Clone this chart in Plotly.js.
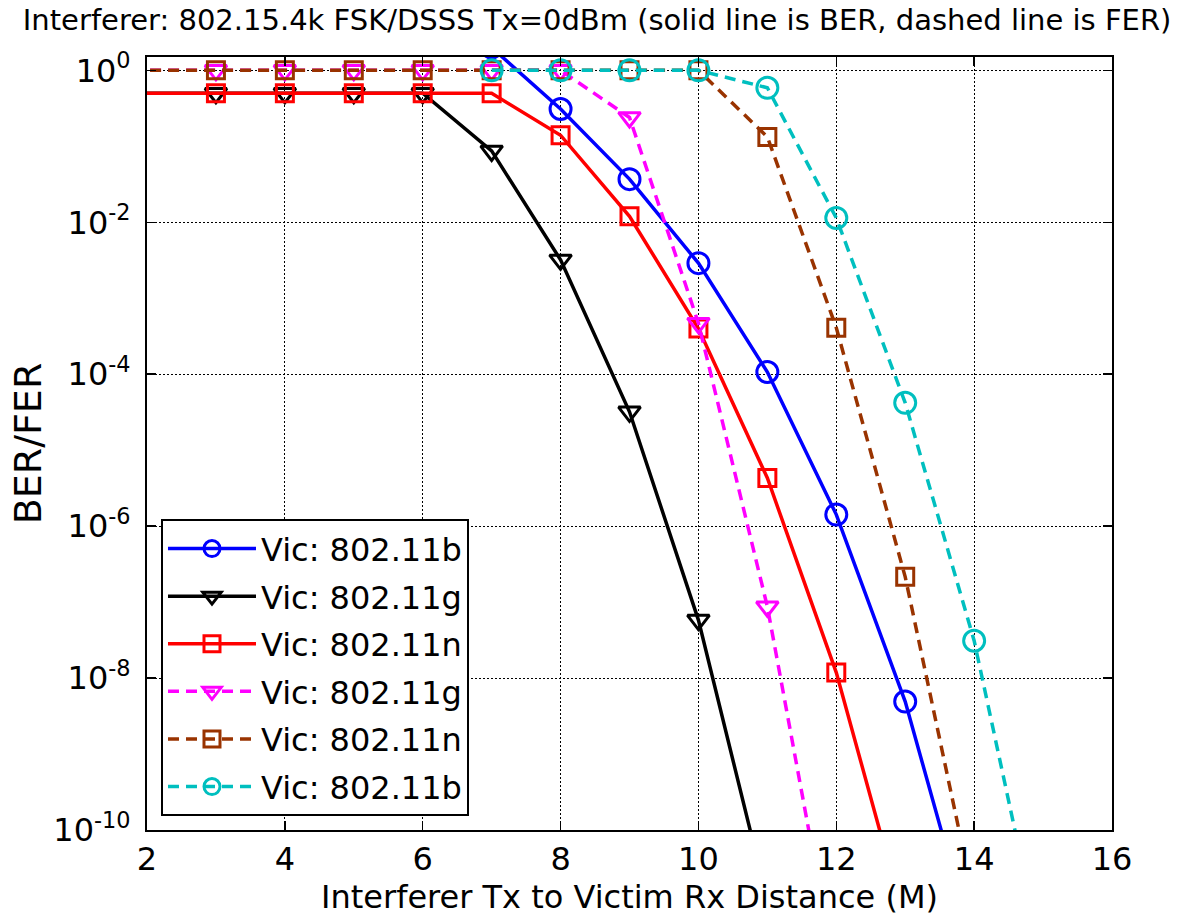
<!DOCTYPE html>
<html>
<head>
<meta charset="utf-8">
<script src="https://cdn.plot.ly/plotly-3.0.1.min.js"></script>
<style>html,body{margin:0;padding:0;background:#fff;}#chart{width:1180px;height:923px;}</style>
</head>
<body>
<div id="chart"></div>
<script>
// Series data (distance in M, BER/FER values)
const names = ["Vic: 802.11b", "Vic: 802.11g", "Vic: 802.11n", "Vic: 802.11g", "Vic: 802.11n", "Vic: 802.11b"];

const berBx = [7, 8, 9, 10, 11, 12, 13, 14];
const berBy = [2.0, 0.31, 0.037, 0.0029, 1.07e-4, 1.42e-6, 4.9e-9, 2.8e-12];

const berGx = [1, 3, 4, 5, 6, 7, 8, 9, 10, 11];
const berGy = [0.5, 0.5, 0.5, 0.5, 0.5, 0.087, 0.0032, 3.2e-5, 5.8e-8, 1.2e-11];

const berNx = [1, 3, 4, 5, 6, 7, 8, 9, 10, 11, 12, 13];
const berNy = [0.5, 0.5, 0.5, 0.5, 0.5, 0.5, 0.14, 0.012, 4.0e-4, 4.3e-6, 1.18e-8, 6e-12];

const ferGx = [1, 3, 4, 5, 6, 7, 8, 9, 10, 11, 12];
const ferGy = [1, 1, 1, 1, 1, 1, 1, 0.24, 4.7e-4, 8.7e-8, 1.1e-12];

const ferNx = [1, 3, 4, 5, 6, 7, 8, 9, 10, 11, 12, 13, 14];
const ferNy = [1, 1, 1, 1, 1, 1, 1, 1, 1, 0.133, 4.1e-4, 2.15e-7, 1.15e-11];

const ferBx = [7, 8, 9, 10, 11, 12, 13, 14, 15];
const ferBy = [1, 1, 1, 1, 0.59, 0.0114, 4.2e-5, 3.1e-8, 1.9e-12];

const xTicks = [2, 4, 6, 8, 10, 12, 14, 16];
const yTickVals = [1, 1e-2, 1e-4, 1e-6, 1e-8, 1e-10];
const yTickText = ["10<sup>0</sup>", "10<sup>-2</sup>", "10<sup>-4</sup>", "10<sup>-6</sup>", "10<sup>-8</sup>", "10<sup>-10</sup>"];

const titleText = "Interferer: 802.15.4k FSK/DSSS Tx=0dBm (solid line is BER, dashed line is FER)";
const xTitle = "Interferer Tx to Victim Rx Distance (M)";
const yTitle = "BER/FER";

const FONT = "DejaVu Sans, Liberation Sans, Arial, sans-serif";

function tr(x, y, name, color, symbol, size, dash, grp) {
  return {
    x: x, y: y, name: name, type: "scatter", mode: "lines+markers",
    legendgroup: grp,
    line: {color: color, width: 3.5, dash: dash},
    marker: {symbol: symbol, size: size, color: color, line: {color: color, width: 3}},
    cliponaxis: true
  };
}

const data = [
  tr(berBx, berBy, names[0], "#0000FF", "circle-open", 21, "solid", "g1"),
  tr(berGx, berGy, names[1], "#000000", "triangle-down-open", 19, "solid", "g2"),
  tr(berNx, berNy, names[2], "#FF0000", "square-open", 17, "solid", "g3"),
  tr(ferGx, ferGy, names[3], "#FF00FF", "triangle-down-open", 19, "11px,7px", "g4"),
  tr(ferNx, ferNy, names[4], "#993300", "square-open", 17, "11px,7px", "g5"),
  tr(ferBx, ferBy, names[5], "#00BFBF", "circle-open", 21, "11px,7px", "g6")
];

const axisCommon = {
  showline: true, linecolor: "#000", linewidth: 2, mirror: "allticks",
  ticks: "inside", ticklen: 9, tickwidth: 1.5, tickcolor: "#000",
  showgrid: true, gridcolor: "#000", gridwidth: 1, griddash: "2px,2px",
  zeroline: false,
  tickfont: {family: FONT, size: 32, color: "#000"}
};

const layout = {
  width: 1180, height: 923,
  paper_bgcolor: "#fff", plot_bgcolor: "#fff",
  margin: {l: 147, r: 68, t: 57, b: 93},
  showlegend: true,
  title: {
    text: titleText,
    font: {family: FONT, size: 29, color: "#000"},
    x: 0.506, xref: "container", xanchor: "center",
    y: 0.978, yref: "container", yanchor: "middle"
  },
  xaxis: Object.assign({}, axisCommon, {
    range: [2, 16], tickvals: xTicks, ticktext: xTicks.map(String),
    title: {text: xTitle, font: {family: FONT, size: 32, color: "#000"}, standoff: 4}
  }),
  yaxis: Object.assign({}, axisCommon, {
    type: "log", range: [-10, 0.176],
    tickvals: yTickVals, ticktext: yTickText, ticklabelstandoff: 8,
    title: {text: yTitle, font: {family: FONT, size: 38, color: "#000"}, standoff: 0}
  }),
  legend: {
    x: 0.0145, y: 0.402, xanchor: "left", yanchor: "top",
    bgcolor: "#fff", bordercolor: "#000", borderwidth: 2,
    font: {family: FONT, size: 32, color: "#000"},
    itemwidth: 88, traceorder: "grouped", tracegroupgap: 3
  }
};

Plotly.newPlot("chart", data, layout, {displayModeBar: false, staticPlot: true});
</script>
</body>
</html>
